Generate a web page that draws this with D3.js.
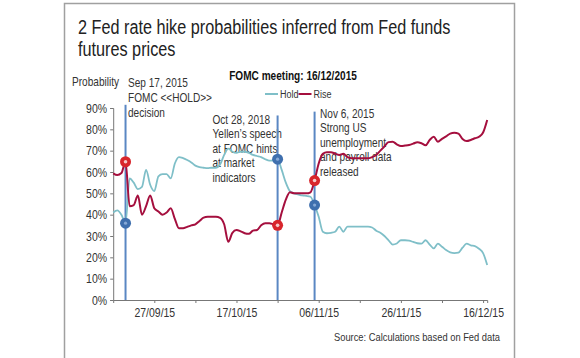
<!DOCTYPE html>
<html><head><meta charset="utf-8">
<script src="https://cdn.jsdelivr.net/npm/d3@7"></script>
<style>
html,body{margin:0;padding:0;background:#fff;}
svg{display:block;}
</style></head>
<body>
<svg id="chart" width="580" height="358"></svg>
<script>
// ---------- DATA ----------
const titleLines = ["2 Fed rate hike probabilities inferred from Fed funds", "futures prices"];
const subtitle = "FOMC meeting: 16/12/2015";
const seriesNames = ["Hold", "Rise"];
const yTicks = [0, 10, 20, 30, 40, 50, 60, 70, 80, 90];
const xTickDates = ["2015-09-17","2015-09-27","2015-10-07","2015-10-17","2015-10-27","2015-11-06","2015-11-16","2015-11-26","2015-12-06","2015-12-16"];
const xLabelDates = ["2015-09-27","2015-10-17","2015-11-06","2015-11-26","2015-12-16"];

const dates = [
 "2015-09-17","2015-09-18","2015-09-19","2015-09-20","2015-09-21","2015-09-22","2015-09-23","2015-09-24","2015-09-25","2015-09-26",
 "2015-09-27","2015-09-28","2015-09-29","2015-09-30","2015-10-01","2015-10-02","2015-10-03","2015-10-04","2015-10-05","2015-10-06",
 "2015-10-07","2015-10-08","2015-10-09","2015-10-10","2015-10-11","2015-10-12","2015-10-13","2015-10-14","2015-10-15","2015-10-16",
 "2015-10-17","2015-10-18","2015-10-19","2015-10-20","2015-10-21","2015-10-22","2015-10-23","2015-10-24","2015-10-25","2015-10-26",
 "2015-10-27","2015-10-28","2015-10-29","2015-10-30","2015-10-31","2015-11-01","2015-11-02","2015-11-03","2015-11-04","2015-11-05",
 "2015-11-06","2015-11-07","2015-11-08","2015-11-09","2015-11-10","2015-11-11","2015-11-12","2015-11-13","2015-11-14","2015-11-15",
 "2015-11-16","2015-11-17","2015-11-18","2015-11-19","2015-11-20","2015-11-21","2015-11-22","2015-11-23","2015-11-24","2015-11-25",
 "2015-11-26","2015-11-27","2015-11-28","2015-11-29","2015-11-30","2015-12-01","2015-12-02","2015-12-03","2015-12-04","2015-12-05",
 "2015-12-06","2015-12-07","2015-12-08","2015-12-09","2015-12-10","2015-12-11","2015-12-12","2015-12-13","2015-12-14","2015-12-15",
 "2015-12-16","2015-12-17"
];
const holdValues = [
 41,42,40,36,57,55,52,53,61,54,
 51,58,59,59,57,64,67,66.5,65.6,64.5,
 63,62.3,62,61.8,62,62,63.5,68,71,69.5,
 69,69.5,69.5,69,68,67.5,67,66,65.3,65.5,
 66,61,55,51,50,49.5,49,48.8,48.4,44.5,
 39,32,31.3,31.5,32,34.4,32,34.4,34.4,34.4,
 34.4,34.4,34.4,34,32.5,31.5,30,28,26,26.5,
 28,28,27.8,27.2,26.6,26.4,28,26,24.2,26.4,
 25,23.4,22.3,22,22.2,24.5,26.4,25.6,25.3,24,
 22,16.4
];
const riseValues = [
 59.4,58.6,59.5,64.8,44,44.5,49,40,44,49,
 43,41.5,40,41,43,38,33.6,33.6,34.3,35,
 35.5,37,38.6,39,39,39,38.5,35.5,27.3,31.5,
 32.8,32.2,31.3,31,32.5,32.8,35,36,36,35.5,
 35,41,47,50.5,50,50,50,50,50.5,56,
 64,68.5,69.3,69.3,68.6,68,68.5,67,66.4,66.4,
 66.4,66.4,66.4,67,68,70,72,74,74.2,73,
 72.2,72.4,72.7,73.3,74,73.5,72.5,75,76.5,74.2,
 75.5,76.7,78,78.4,78,75.5,74.5,75,75.8,76.5,
 78.5,84.4
];

// event annotations (date as placed on the chart, top of the marker line in %)
const eventDates = ["2015-09-20","2015-10-27","2015-11-05"];
const eventTops = [91.5, 86.5, 88.3];
const eventLabels = [
 ["Sep 17, 2015","FOMC <<HOLD>>","decision"],
 ["Oct 28, 2018","Yellen\u2019s speech","at FOMC hints","at market","indicators"],
 ["Nov 6, 2015","Strong US","unemployment","and payroll data","released"]
];
const eventHold = [36, 66, 44.5];
const eventRise = [64.8, 35, 56];

const sourceText = "Source: Calculations based on Fed data";
const yAxisTitle = "Probability";

// ---------- DRAW ----------
const parse = d3.timeParse("%Y-%m-%d");
const svg = d3.select("#chart");
const FONT = "'Liberation Sans', Arial, sans-serif";
const SX = 0.82; // horizontal compression to mimic a condensed face
const textCol = "#333";
const holdCol = "#7fbfc8";
const riseCol = "#a50f3e";
const eventCol = "#5a87c3";

function ntext(parent, px, py, str, o = {}) {
  return parent.append("text")
    .attr("transform", `translate(${px},${py}) scale(${SX},1)`)
    .attr("font-family", FONT)
    .attr("font-size", o.size || 12)
    .attr("font-weight", o.weight || "normal")
    .attr("text-anchor", o.anchor || "start")
    .attr("fill", o.fill || textCol)
    .text(str);
}

// frame
svg.append("rect").attr("x",64.5).attr("y",3.5).attr("width",450).attr("height",360)
  .attr("fill","none").attr("stroke","#a0a0a0").attr("stroke-width",1.5);

// title
titleLines.forEach((t,i)=> ntext(svg, 78, 33.5+i*22, t, {size:19.8, fill:"#222"}));
ntext(svg, 293, 79.5, subtitle, {size:12.3, weight:"bold", anchor:"middle", fill:"#111"});

const x = d3.scaleTime().domain([parse("2015-09-17"), parse("2015-12-17")]).range([113.2, 487.2]);
const y = d3.scaleLinear().domain([0, 90]).range([300, 108]);

// legend
const legX = [265, 298.5];
seriesNames.forEach((n,i)=>{
  svg.append("line").attr("x1",legX[i]).attr("x2",legX[i]+13).attr("y1",94).attr("y2",94)
    .attr("stroke", i===0?holdCol:riseCol).attr("stroke-width",2);
  ntext(svg, legX[i]+15, 98, n, {size:11});
});

// y axis title
ntext(svg, 72, 86, yAxisTitle, {size:12.3});

// axes
const yAxis = d3.axisLeft(y).tickValues(yTicks).tickSize(3).tickPadding(3).tickFormat(d=>d+"%");
const gy = svg.append("g").attr("transform","translate(113.2,0)").call(yAxis);
const xAxis = d3.axisBottom(x).tickValues(xTickDates.map(parse)).tickSize(3).tickPadding(5)
  .tickFormat(d=> xLabelDates.includes(d3.timeFormat("%Y-%m-%d")(d)) ? d3.timeFormat("%d/%m/%y")(d) : "");
const gx = svg.append("g").attr("transform","translate(0,300)").call(xAxis);
[gx,gy].forEach(g=>{
  g.select(".domain").attr("stroke","#777").attr("stroke-width",1);
  g.selectAll(".tick line").attr("stroke","#777");
  g.selectAll("text").attr("font-family",FONT).attr("font-size",12.8).attr("fill",textCol)
    .attr("transform",`scale(${SX},1)`);
});
gy.selectAll("text").attr("x",-7.5);
gx.selectAll(".tick").filter((d,i)=>i===0).select("line").attr("stroke","none");

// annotation text (beneath lines)
const annX = [128, 212.5, 320];
const annY = [86.5, 123.5, 117.5];
const annStep = [15, 14.6, 14.6];
eventLabels.forEach((lines,k)=>{
  lines.forEach((t,i)=> ntext(svg, annX[k], annY[k]+i*annStep[k], t, {size:12.3}));
});

// event vertical lines
eventDates.forEach((d,k)=>{
  svg.append("line").attr("x1",x(parse(d))).attr("x2",x(parse(d)))
    .attr("y1",y(eventTops[k])).attr("y2",y(0))
    .attr("stroke",eventCol).attr("stroke-width",2);
});

// series lines
const line = d3.line().x((d,i)=>x(parse(dates[i]))).y(d=>y(d)).curve(d3.curveMonotoneX);
svg.append("path").datum(holdValues).attr("d",line).attr("fill","none")
  .attr("stroke",holdCol).attr("stroke-width",1.8);
svg.append("path").datum(riseValues).attr("d",line).attr("fill","none")
  .attr("stroke",riseCol).attr("stroke-width",2);

// markers
eventDates.forEach((d,k)=>{
  const cx = x(parse(d));
  svg.append("circle").attr("cx",cx).attr("cy",y(eventHold[k])).attr("r",5.5).attr("fill","#3f6fae");
  svg.append("circle").attr("cx",cx).attr("cy",y(eventHold[k])).attr("r",1.6).attr("fill","#86a8d6");
  svg.append("circle").attr("cx",cx).attr("cy",y(eventRise[k])).attr("r",5.5).attr("fill","#d8262c");
  svg.append("circle").attr("cx",cx).attr("cy",y(eventRise[k])).attr("r",1.8).attr("fill","#f4c9c9");
});

// source
ntext(svg, 500, 341, sourceText, {size:11.4, anchor:"end"});
</script>
</body></html>
